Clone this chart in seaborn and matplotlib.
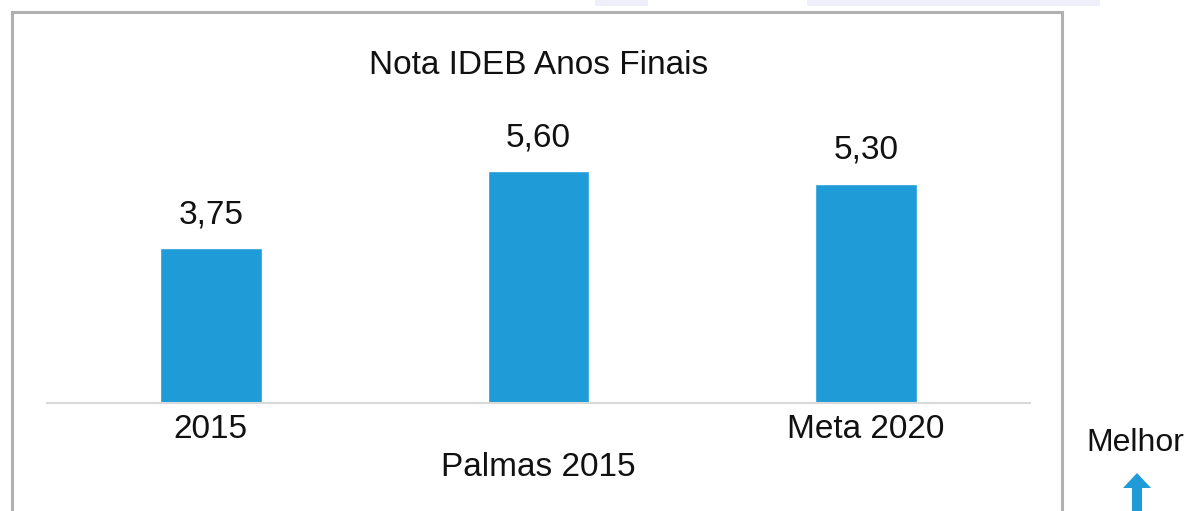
import matplotlib
matplotlib.use("Agg")
import matplotlib.pyplot as plt
import seaborn as sns
import pandas as pd
from matplotlib.patches import Rectangle, Polygon

# ---- data ----
categories = ["2015", "Palmas 2015", "Meta 2020"]
values = [3.75, 5.60, 5.30]
title = "Nota IDEB Anos Finais"
side_label = "Melhor"

BAR_COLOR = "#1f9bd7"
TEXT_COLOR = "#111111"
W, H = 1187, 511

sns.set_theme(style="white")
plt.rcParams["font.family"] = ["Liberation Sans", "DejaVu Sans"]

df = pd.DataFrame({"cat": categories, "val": values})

fig = plt.figure(figsize=(W / 100, H / 100), dpi=100)
fig.patch.set_facecolor("white")

# axes placement in pixels
left_px, right_px, base_px, top_px = 47, 1030, 403, 100
ax = fig.add_axes([left_px / W, 1 - base_px / H, (right_px - left_px) / W, (base_px - top_px) / H])
ax.set_facecolor("none")

sns.barplot(data=df, x="cat", y="val", color=BAR_COLOR, saturation=1, width=0.31, ax=ax)
ax.set_xlim(-0.5, 2.5)
ax.set_ylim(0, (base_px - top_px) / 41.4)

labels = [f"{v:.2f}".replace(".", ",") for v in values]
ax.bar_label(ax.containers[0], labels=labels, padding=12.7, fontsize=24, color=TEXT_COLOR)

ax.set_xlabel("")
ax.set_ylabel("")
ax.set_yticks([])
ax.set_xticks(range(len(categories)))
ticklabels = [c if i != 1 else "\n" + c for i, c in enumerate(categories)]
ax.set_xticklabels(ticklabels, fontsize=24, color=TEXT_COLOR, linespacing=1.3)
ax.tick_params(axis="x", length=0, pad=8)
for s in ["top", "left", "right"]:
    ax.spines[s].set_visible(False)
ax.spines["bottom"].set_color("#d9d9d9")
ax.spines["bottom"].set_linewidth(1.5)

# title
fig.text(539 / W, 1 - 66 / H, title, ha="center", va="center", fontsize=24, color=TEXT_COLOR)

# chart border
fig.add_artist(Rectangle((12 / W, -0.05), (1062 - 12) / W, (H - 12) / H + 0.05,
                         transform=fig.transFigure, fill=False, ec="#b0b0b0", lw=2.2))

# faint shapes at top edge
fig.add_artist(Rectangle((595 / W, 1 - 6 / H), 53 / W, 0.05, transform=fig.transFigure,
                         fc="#efeffc", ec="none"))
fig.add_artist(Rectangle((807 / W, 1 - 6 / H), 293 / W, 0.05, transform=fig.transFigure,
                         fc="#f0f0fb", ec="none"))

# "Melhor" label and arrow
fig.text(1135 / W, 1 - 443 / H, side_label, ha="center", va="center", fontsize=23, color=TEXT_COLOR)
pts = [(1132, H + 5), (1132, 488), (1123, 488), (1137, 473), (1151, 488), (1142, 488), (1142, H + 5)]
fig.add_artist(Polygon([(x / W, 1 - y / H) for x, y in pts], closed=True,
                       transform=fig.transFigure, fc=BAR_COLOR, ec="none"))

fig.savefig("out.png", dpi=100)
